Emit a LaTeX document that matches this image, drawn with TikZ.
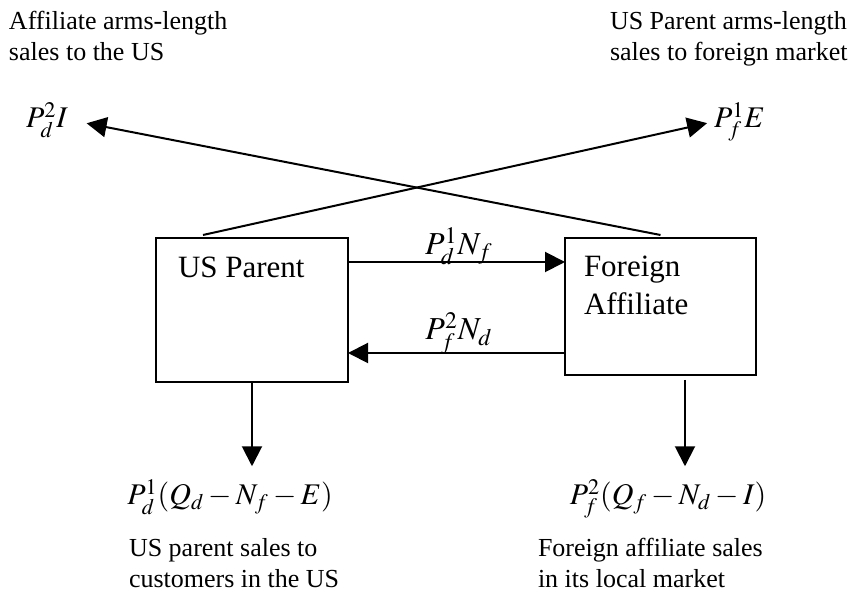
\documentclass[tikz,border=0pt]{standalone}
\usepackage{mathptmx}
\usepackage{fontspec}
\setmainfont{Liberation Serif}
\usetikzlibrary{arrows.meta}
\newcommand\Tx{\fontsize{13}{15.5}\selectfont}

\begin{document}
\begin{tikzpicture}[->,>={Triangle[length=10pt,width=10pt]},line width=1pt,
                    x=0.5pt,y=-0.5pt]

  \tikzstyle{firm}=[rectangle,draw,inner sep=0pt,outer sep=0pt]
  \tikzstyle{firmlabel}=[anchor=base west,inner sep=0pt,align=left,
                    font=\fontsize{15.5}{19}\selectfont]
  \tikzstyle{caption}=[anchor=base west,inner sep=0pt,align=left,font=\Tx]
  \tikzstyle{price}=[inner sep=0pt,font=\fontsize{15}{18}\selectfont]

  \useasboundingbox (0,0) rectangle (853,592);

  \node[firm,minimum width=96pt,minimum height=72pt]     (USP) at (252,310)     {};
  \node[firm,minimum width=95.5pt,minimum height=68.5pt] (FA)  at (660.5,306.5) {};
  \node[firmlabel] (USPname) at (177,278) {US Parent};
  \node[firmlabel] (FAname)  at (583,315) {Foreign\\Affiliate};

  \node[caption] (leftnote)  at (8,61)    {Affiliate arms-length\\sales to the US};
  \node[caption] (rightnote) at (609,61)  {US Parent arms-length\\sales to foreign market};
  \node[caption] (uspnote)   at (128,588) {US parent sales to\\customers in the US};
  \node[caption] (fanote)    at (537,588) {Foreign affiliate sales\\in its local market};

  \node[price,anchor=base west] (import)   at (25,128)  {$P_d^2 I$};
  \node[price,anchor=base west] (export)   at (713,128) {$P_f^1 E$};
  \node[price,anchor=base,font=\fontsize{16}{19}\selectfont] (toFA)  at (459,255) {$P_d^1 N_f$};
  \node[price,anchor=base,font=\fontsize{16}{19}\selectfont] (toUSP) at (459,340) {$P_f^2 N_d$};
  \node[price,anchor=base]      (uspsales) at (230,505) {$P_d^1(Q_d-N_f-E)$};
  \node[price,anchor=base]      (fasales)  at (668,505) {$P_f^2(Q_f-N_d-I)$};

  \coordinate (hi)    at ([yshift=24pt]USP.east);
  \coordinate (lo)    at ([yshift=-21.5pt]USP.east);
  \coordinate (faout) at ([xshift=12.25pt,yshift=-2.5pt]FA.south);

  % arms-length sales
  \draw[shorten >=9pt] ([yshift=1.5pt]FA.north) -- (import.east);
  \draw[shorten >=3pt] ([xshift=-24.5pt,yshift=1.5pt]USP.north) -- (export.west);

  % intra-firm trade
  \draw (hi) -- (hi -| FA.west);
  \draw (lo -| FA.west) -- (lo);

  % local sales
  \draw[shorten >=6pt] (USP.south) -- (USP.south |- uspsales.north);
  \draw[shorten >=6pt] (faout) -- (faout |- fasales.north);
\end{tikzpicture}
\end{document}
